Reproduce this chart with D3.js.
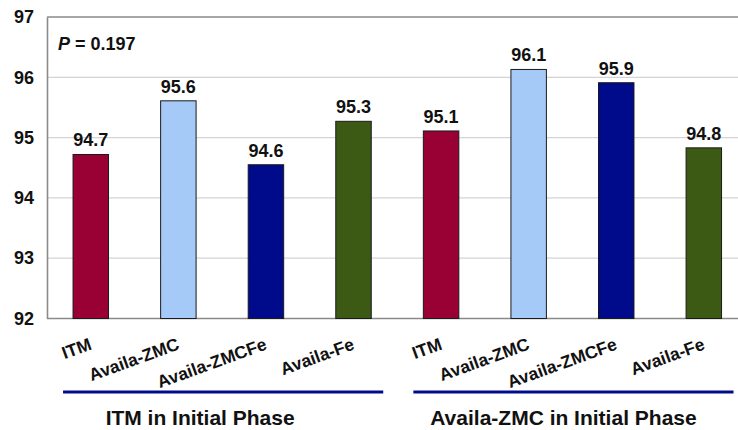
<!DOCTYPE html>
<html><head><meta charset="utf-8">
<script src="https://cdn.jsdelivr.net/npm/d3@7/dist/d3.min.js"></script>
<style>
html,body{margin:0;padding:0;background:#fff;}
svg{display:block;font-family:"Liberation Sans",Arial,sans-serif;}
</style></head>
<body><svg id="c" width="738" height="430"></svg>
<script>
const categories = ["ITM","Availa-ZMC","Availa-ZMCFe","Availa-Fe","ITM","Availa-ZMC","Availa-ZMCFe","Availa-Fe"];
const groups = ["ITM in Initial Phase","Availa-ZMC in Initial Phase"];
const groupOf = [0,0,0,0,1,1,1,1];
const values = [94.72, 95.61, 94.55, 95.27, 95.11, 96.13, 95.91, 94.83];
const valueLabels = ["94.7","95.6","94.6","95.3","95.1","96.1","95.9","94.8"];
const colors = ["#990033","#a6caf8","#000b8c","#3d5a14","#990033","#a6caf8","#000b8c","#3d5a14"];
const yTicks = [92,93,94,95,96,97];
const pText = "0.197";

(function(){
const svg = d3.select("#c");
const pLeft = 47, pRight = 747.6, pTop = 17, pBottom = 318.5;
const y = d3.scaleLinear().domain([92,97]).range([pBottom, pTop]);
const x = d3.scaleBand().domain(d3.range(categories.length)).range([pLeft, pRight]).paddingInner(0.595).paddingOuter(0.2975);

svg.append("g").selectAll("line").data(yTicks.filter(t=>t>92 && t<97)).join("line")
  .attr("x1", pLeft).attr("x2", 738).attr("y1", d=>y(d)).attr("y2", d=>y(d))
  .attr("stroke", "#d4d4d4").attr("stroke-width", 1.2);
svg.append("line").attr("x1", pLeft).attr("x2", 738).attr("y1", y(97)).attr("y2", y(97)).attr("stroke","#8a8a8a").attr("stroke-width",1.6);
svg.append("line").attr("x1", pLeft).attr("x2", 738).attr("y1", y(92)).attr("y2", y(92)).attr("stroke","#8a8a8a").attr("stroke-width",1.6);

const yAxis = d3.axisLeft(y).tickValues(yTicks).tickSize(0).tickPadding(13).tickFormat(d3.format("d"));
const ga = svg.append("g").attr("transform", `translate(${pLeft},0)`).call(yAxis);
ga.select(".domain").attr("stroke","#8a8a8a").attr("stroke-width",1.6);
ga.selectAll("text").attr("font-size", 18).attr("font-weight","bold").attr("fill","#111").attr("font-family",'"Liberation Sans",Arial,sans-serif');

svg.append("g").selectAll("rect").data(values).join("rect")
  .attr("x", (d,i)=>x(i)).attr("width", x.bandwidth())
  .attr("y", d=>y(d)).attr("height", d=>y(92)-y(d))
  .attr("fill", (d,i)=>colors[i]).attr("stroke","#1a1a1a").attr("stroke-width",1);

svg.append("g").selectAll("text").data(values).join("text")
  .attr("x", (d,i)=>x(i)+x.bandwidth()/2).attr("y", d=>y(d)-8)
  .attr("text-anchor","middle").attr("font-size",18).attr("font-weight","bold").attr("fill","#111")
  .text((d,i)=>valueLabels[i]);

svg.append("g").selectAll("text").data(categories).join("text")
  .attr("transform", (d,i)=>`translate(${x(i)+x.bandwidth()/2+2},349) rotate(-20)`)
  .attr("text-anchor","end").attr("font-size",17.5).attr("font-weight","bold").attr("fill","#111")
  .text(d=>d);

groups.forEach((g,gi)=>{
  const idx = d3.range(categories.length).filter(i=>groupOf[i]===gi);
  const x0 = x(idx[0]) - 10, x1 = x(idx[idx.length-1]) + x.bandwidth() + 12;
  svg.append("line").attr("x1", x0).attr("x2", x1).attr("y1", 392).attr("y2", 392)
    .attr("stroke","#000b8c").attr("stroke-width",3);
  svg.append("text").attr("x", (x0+x1)/2 - (gi===0 ? 23 : 10)).attr("y", 425).attr("text-anchor","middle")
    .attr("font-size",21).attr("font-weight","bold").attr("fill","#111").text(g);
});

const pt = svg.append("text").attr("x", 58).attr("y", 50).attr("font-size",18).attr("font-weight","bold").attr("fill","#111");
pt.append("tspan").attr("font-style","italic").text("P");
pt.append("tspan").text(" = " + pText);
})();
</script></body></html>
